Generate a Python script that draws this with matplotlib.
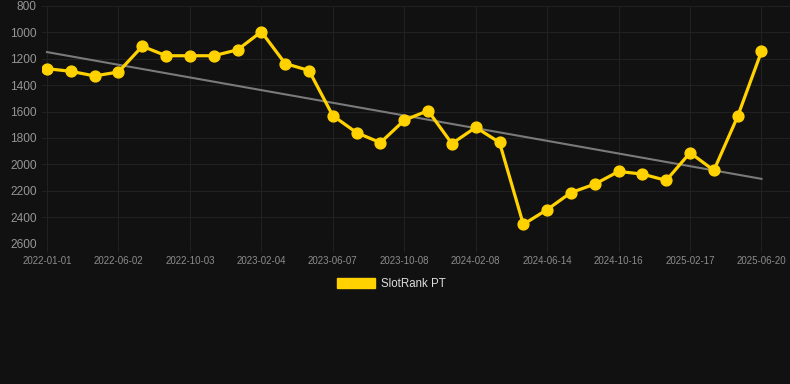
import matplotlib
matplotlib.use('Agg')
import matplotlib.pyplot as plt
from matplotlib.patches import Patch
import numpy as np

######### DADOS #########

# rank por ponto (31 pontos, espaçados igualmente)
rank = [1275, 1295, 1330, 1300, 1105, 1177, 1177, 1177, 1132, 995,
        1236, 1289, 1631, 1760, 1836, 1666, 1593, 1843, 1720, 1834,
        2455, 2343, 2214, 2150, 2054, 2074, 2122, 1912, 2046, 1636,
        1144]

# rótulos do eixo x (um a cada 3 pontos)
tick_labels = ['2022-01-01', '2022-06-02', '2022-10-03', '2023-02-04',
               '2023-06-07', '2023-10-08', '2024-02-08', '2024-06-14',
               '2024-10-16', '2025-02-17', '2025-06-20']

yticks = [800, 1000, 1200, 1400, 1600, 1800, 2000, 2200, 2400, 2600]

######### FIGURA #########

plt.rcParams['font.family'] = ['Liberation Sans', 'DejaVu Sans']

bg = '#111111'
grid_c = '#212121'
yellow = '#FFD200'

fig = plt.figure(figsize=(7.9, 3.84), dpi=100, facecolor=bg)
W, H = 790, 384
x0, x1 = 42, 790
y0, y1 = 6, 243.5
ax = fig.add_axes([x0 / W, 1 - y1 / H, (x1 - x0) / W, (y1 - y0) / H])
ax.set_facecolor(bg)

x = np.arange(len(rank))
y = np.array(rank)

# linha de tendência (regressão linear)
a, b = np.polyfit(x, y, 1)
ax.plot(x, a * x + b, color='#7a7a7a', lw=1.5, zorder=2)

ax.plot(x, y, color=yellow, lw=2.3, marker='o', ms=7.8, zorder=3)

# escala: ponto 0 em x=47px, ponto 30 em x=761.5px
step = (761.5 - 47) / (len(rank) - 1)
ax.set_xlim(-(47 - x0) / step, (len(rank) - 1) + (x1 - 761.5) / step)
ax.set_ylim(2600, 800)

ax.set_xticks(x[::3])
ax.set_xticklabels(tick_labels)
ax.set_yticks(yticks)

ax.grid(True, color=grid_c, lw=0.8)
for s in ax.spines.values():
    s.set_visible(False)
ax.tick_params(axis='x', colors=grid_c, labelcolor='#8c8c8c', labelsize=7,
               length=6, width=0.8, pad=3)
ax.tick_params(axis='y', length=0, labelcolor='#959595', labelsize=8.6, pad=4)

# legenda com retângulo amarelo
fig.legend(handles=[Patch(facecolor=yellow, edgecolor=yellow)], labels=['SlotRank PT'],
           loc='center', bbox_to_anchor=(391 / W, 1 - 284 / H), frameon=False,
           fontsize=8.3, handlelength=3.3, handleheight=1.0, handletextpad=0.5,
           labelcolor='#dddddd')

plt.savefig('out.png', dpi=100, facecolor=bg)
